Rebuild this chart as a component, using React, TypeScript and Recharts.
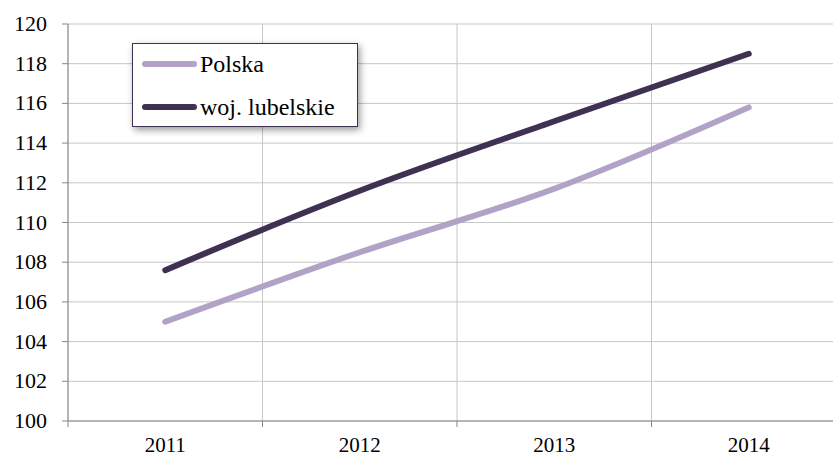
import { LineChart, Line, XAxis, YAxis, CartesianGrid, Legend } from "recharts";

// values
const years = ["2011", "2012", "2013", "2014"];
const polska = [105.0, 108.5, 111.7, 115.8];
const lubelskie = [107.6, 111.6, 115.1, 118.5];
const yTicks = [100, 102, 104, 106, 108, 110, 112, 114, 116, 118, 120];

const seriesNames = ["Polska", "woj. lubelskie"];
const seriesColors = ["#b3a2c7", "#403152"];

const data = years.map((y, i) => ({ year: y, polska: polska[i], lubelskie: lubelskie[i] }));

const W = 850;
const H = 459;
const M = { top: 24, right: 4, left: 0, bottom: 0 };
const Y_W = 68;
const X_H = 38;
const band = (W - M.left - M.right - Y_W) / years.length;

const font = "'Times New Roman', 'Liberation Serif', 'DejaVu Serif', serif";
const axisColor = "#878787";
const gridColor = "#c6c6c6";

const XTick = (props: any) => {
  const { x, payload } = props;
  const top = H - M.bottom - X_H;
  return (
    <g>
      <line x1={x - band / 2} x2={x - band / 2} y1={top} y2={top + 6} stroke={axisColor} />
      <text x={x} y={top + 31} textAnchor="middle" fontSize={21} fontFamily={font} fill="#000">
        {payload.value}
      </text>
    </g>
  );
};

const YTick = (props: any) => {
  const { y, payload } = props;
  const axisX = M.left + Y_W;
  return (
    <g>
      <line x1={axisX - 6} x2={axisX} y1={y} y2={y} stroke={axisColor} />
      <text x={axisX - 21} y={y + 7} textAnchor="end" fontSize={22} fontFamily={font} fill="#000">
        {payload.value}
      </text>
    </g>
  );
};

const LegendBox = () => (
  <div
    style={{
      width: 224,
      height: 82,
      border: "1.5px solid #3f3151",
      background: "#fff",
      boxShadow: "2px 3px 7px rgba(0,0,0,0.4)",
      fontFamily: font,
      fontSize: 24,
      color: "#000",
      position: "relative",
    }}
  >
    {seriesNames.map((n, i) => (
      <div
        key={n}
        style={{ position: "absolute", left: 9, top: 4 + i * 43, height: 32, display: "flex", alignItems: "center", whiteSpace: "nowrap" }}
      >
        <span
          style={{ display: "inline-block", width: 55, height: 6, borderRadius: 3, background: seriesColors[i], marginRight: 3 }}
        />
        <span>{n}</span>
      </div>
    ))}
  </div>
);

export default function App() {
  return (
    <div style={{ position: "absolute", left: 0, top: 0, width: 833, height: 459, overflow: "hidden", background: "#fff" }}>
      <LineChart width={W} height={H} data={data} margin={M}>
        <CartesianGrid
          stroke={gridColor}
          verticalCoordinatesGenerator={({ offset }: any) =>
            years.map((_, i) => offset.left + i * band).concat([offset.left + years.length * band])
          }
        />
        <XAxis
          dataKey="year"
          height={X_H}
          stroke={axisColor}
          tickLine={false}
          tick={<XTick />}
          interval={0}
          padding={{ left: band / 2, right: band / 2 }}
        />
        <YAxis
          width={Y_W}
          domain={[100, 120]}
          ticks={yTicks}
          interval={0}
          stroke={axisColor}
          tickLine={false}
          tick={<YTick />}
        />
        <Legend
          layout="vertical"
          align="center"
          verticalAlign="middle"
          content={<LegendBox />}
          wrapperStyle={{ left: 132, top: 43, width: 228, height: 86 }}
        />
        <Line
          type="monotone"
          dataKey="polska"
          name={seriesNames[0]}
          stroke={seriesColors[0]}
          strokeWidth={6}
          strokeLinecap="round"
          dot={false}
          isAnimationActive={false}
        />
        <Line
          type="monotone"
          dataKey="lubelskie"
          name={seriesNames[1]}
          stroke={seriesColors[1]}
          strokeWidth={6}
          strokeLinecap="round"
          dot={false}
          isAnimationActive={false}
        />
      </LineChart>
    </div>
  );
}
